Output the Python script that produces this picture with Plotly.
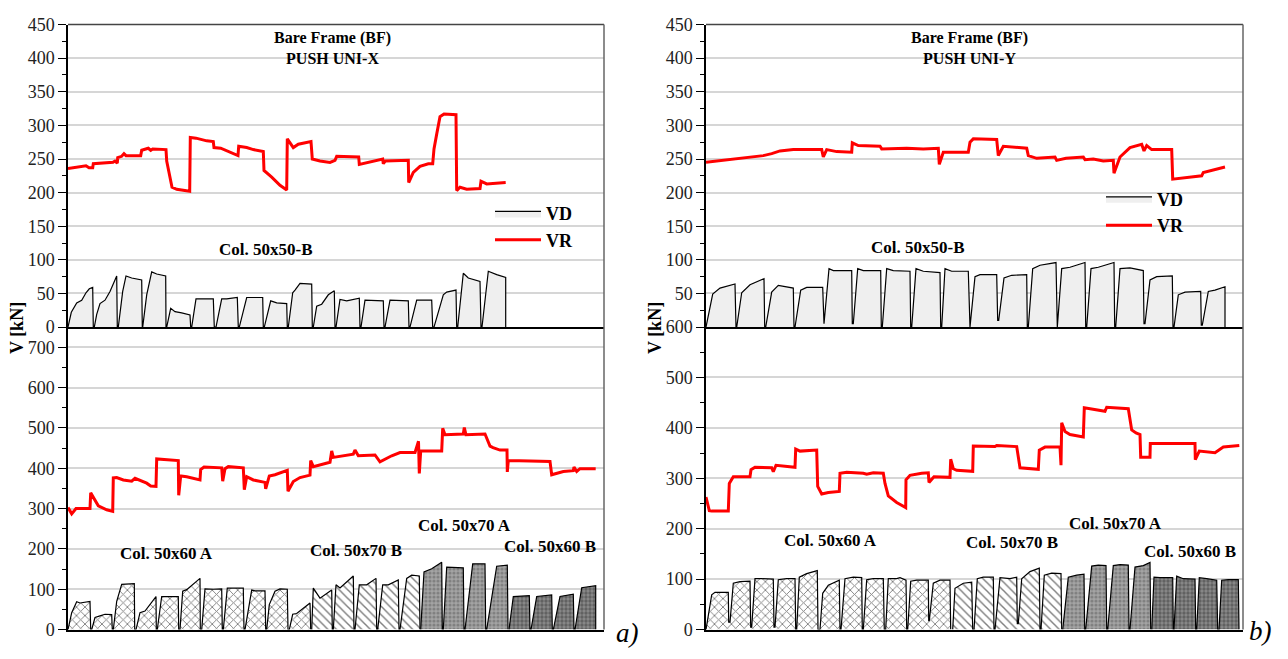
import plotly.graph_objects as go

W, H = 1288, 659

# ---------------- DATA (x = loading step, V in kN) ----------------
# Panel a) top : Col. 50x50-B
TL_VR_X = [0, 12, 18, 21, 24.7, 25.3, 45, 47, 49.3, 49.7, 53.7, 56, 58, 72.7, 73.7, 80.3, 82.7, 84.7, 98, 98.7,
           104, 108.7, 121.7, 122.3, 128, 138.7, 145.3, 146, 152.7, 170, 170.7, 178.7, 185.3, 195.3, 196,
           203.7, 212, 218.7, 219.3, 225.3, 230.3, 243, 244.3, 252, 262, 267, 268.7, 290.7, 291.3, 314.7,
           315.3, 317.3, 340.3, 340.7, 345.3, 352, 360.3, 364.7, 366, 368.7, 372, 376, 388, 388.7, 392,
           398.7, 412, 413, 418.7, 437.7]
TL_VR_V = [236, 238, 240, 237, 237, 243, 245, 247, 244, 252, 254, 258, 255, 255, 263, 266, 263, 265, 264, 247,
           208, 205, 202, 282, 281, 277, 276, 267, 266, 255, 269, 267, 264, 261, 233,
           223, 211, 204, 280, 267, 272, 276, 250, 247, 245, 248, 254, 253, 242, 250,
           243, 247, 248, 215, 230, 239, 243, 243, 265, 287, 313, 317, 316, 203, 208,
           205, 206, 217, 213, 215]

TL_VD_X = [0, 3.3, 8.7, 13.7, 18, 21.3, 24.7, 25.3,
           26.3, 28.7, 32, 37, 42, 48.7, 49.3,
           50.3, 54.7, 58, 63.7, 73.7, 74.3,
           74.7, 78.7, 83.7, 88.7, 97.7, 98,
           98.7, 102.7, 107, 113.7, 122, 122.7,
           123.7, 128, 132, 145.3, 146.3,
           148, 153.7, 158.7, 169.3, 170.3,
           171.3, 178.7, 185.3, 194.7, 195.3,
           196.3, 202.7, 208.7, 218.7, 219.3,
           220.3, 224.7, 227, 232, 243.7, 244.3,
           245.3, 248.7, 253.7, 260.3, 266.3, 267,
           268, 272, 278.7, 291.3, 292,
           293, 297, 315.3, 316,
           317, 322, 340.3, 341,
           342, 348.7, 363.7, 364.7,
           366, 375.3, 378.7, 388, 388.7,
           389.7, 395.3, 400.3, 412, 413,
           414, 420.3, 428.7, 437.7, 437.7]
TL_VD_V = [0, 22, 36, 40, 51, 57, 59, 0,
           0, 19, 35, 40, 53, 76, 0,
           0, 53, 76, 73, 70, 0,
           0, 48, 82, 79, 76, 0,
           0, 28, 23, 21, 18, 0,
           0, 42, 42, 42, 0,
           0, 42, 42, 44, 0,
           0, 44, 44, 44, 0,
           0, 39, 36, 35, 0,
           0, 51, 55, 65, 64, 0,
           0, 31, 34, 48, 54, 0,
           0, 41, 39, 43, 0,
           0, 40, 39, 0,
           0, 40, 39, 0,
           0, 40, 40, 0,
           0, 48, 52, 55, 0,
           0, 80, 73, 68, 0,
           0, 83, 78, 74, 0]

# Panel a) bottom
BL_VR_X = [0, 1.7, 3.7, 8, 22, 22.7, 27, 30.3, 38.7, 44.7, 45.3, 48.7, 55.3, 63.7, 67, 72, 78.7, 82.7, 88,
           88.7, 98.7, 110.3, 110.7, 112.7, 118.7, 132, 132.7, 136, 153.7, 154.7, 157, 160.3, 175.3, 176.3,
           178.7, 185.3, 197, 197.7, 201.3, 207, 219.3, 220, 225.3, 232, 242, 242.7, 245.3, 252, 262,
           263.7, 265.3, 285.3, 287, 290.3, 307, 312, 323.7, 332, 347, 350.5, 351.3, 352.7, 373.7, 374.7,
           377, 395.3, 396.3, 398, 417, 422, 425, 432, 439, 439.3, 440.3, 462, 482, 483.7, 495.3, 505.3,
           506, 508.7, 512, 527.7]
BL_VR_V = [303, 295, 287, 300, 300, 339, 319, 307, 297, 293, 376, 377, 371, 368, 375, 369, 363, 356, 355,
           423, 421, 419, 333, 381, 379, 371, 397, 403, 401, 368, 399, 404, 401, 347,
           379, 371, 365, 349, 381, 384, 395, 343, 367, 377, 383, 419, 404, 408, 415,
           443, 427, 435, 445, 431, 433, 416, 431, 439, 439, 467, 387, 443, 443, 499,
           483, 485, 501, 483, 485, 455, 451, 445, 445, 391, 419, 418, 417, 384, 392, 394,
           403, 392, 399, 399]

# Col. 50x60 A
BL_G1_X = [0, 3.7, 8.7, 12, 22, 22.7, 23.7, 27, 32, 37, 43.7, 44.3, 45.3, 48.7, 53.7, 66.3, 66.7,
           68, 72, 77, 88, 88.3, 89.3, 93.7, 110.3, 110.7, 112, 114.7, 118.7, 132, 132.3,
           133.7, 137, 145.3, 153.7, 154.3, 155.3, 159.3, 167, 175.3, 176, 177, 183.7, 187, 197, 197.7,
           198.7, 201.3, 207, 212, 219.3, 220, 221.3, 224.7, 228.7, 242, 242.7]
BL_G1_V = [0, 42, 69, 66, 70, 0, 0, 30, 34, 38, 37, 0, 0, 70, 112, 114, 0,
           0, 42, 46, 82, 0, 0, 82, 82, 0, 0, 95, 99, 127, 0,
           0, 101, 100, 101, 0, 0, 103, 103, 103, 0, 0, 98, 96, 96, 0,
           0, 62, 95, 101, 100, 0, 0, 38, 40, 66, 0]
# Col. 50x70 B
BL_G2_X = [243.7, 245.3, 252, 263.7, 264.3, 265.3, 268, 272, 285.3, 286, 287, 291.3, 298.7, 308, 308.7,
           309.7, 314.7, 320.3, 330.3, 331, 332, 338.7, 343.7, 351.3, 352]
BL_G2_V = [0, 103, 78, 98, 0, 0, 111, 103, 133, 0, 0, 111, 111, 127, 0,
           0, 111, 111, 123, 0, 0, 127, 135, 133, 0]
# Col. 50x70 A
BL_G3_X = [352.7, 356, 363.7, 373.7, 374.3, 375.3, 378.7, 395.3, 396, 397, 404.7, 417, 417.7,
           418.7, 428.7, 439.3, 440]
BL_G3_V = [0, 143, 151, 167, 0, 0, 155, 153, 0, 0, 163, 163, 0, 0, 157, 160, 0]
# Col. 50x60 B
BL_G4_X = [441, 445.3, 461.3, 462, 463, 468.7, 483.7, 484.3, 485.3, 492, 505.3, 506, 507, 513.7, 527.7, 527.7]
BL_G4_V = [0, 82, 84, 0, 0, 82, 86, 0, 0, 82, 88, 0, 0, 104, 109, 0]

# Panel b) top : Col. 50x50-B
TR_VR_X = [0, 5.7, 30.7, 57.3, 65.7, 74, 87.3, 115.7, 117.3, 120.7, 130.7, 145.7, 146.3, 152.3, 174, 175.7,
           200.7, 217.3, 232.3, 233.3, 237.3, 252.3, 262.3, 264, 267.3, 290.7, 292.3, 297.3, 320.7, 322.3,
           330.7, 349, 350.7, 360, 377.3, 379, 387.3, 397.3, 407.3, 408, 414, 424, 435.7, 438, 440.7,
           445.7, 465.7, 466.7, 474, 495.7, 497.3, 510.7, 519]
TR_VR_V = [245, 246, 251, 255, 258, 262, 264, 264, 253, 264, 261, 260, 274, 270, 269, 265,
           266, 265, 266, 242, 260, 260, 260, 275, 280, 279, 255, 269, 266, 255,
           251, 253, 248, 251, 253, 249, 250, 247, 248, 229, 253, 267, 272, 262, 270,
           264, 264, 220, 221, 225, 230, 235, 238]

TR_VD_X = [0, 6.7, 14, 29, 30, 30.7, 35.7, 44, 58, 58.7, 59.7, 65.7, 72.3, 87.3, 88,
           89, 94.7, 100.7, 116.7, 117.3, 118, 123, 127.3, 145.7, 146.3, 147.3, 151.7, 157.3, 174.7, 175.3,
           176.3, 180.7, 187.3, 204, 204.7, 205.7, 210, 217.3, 234, 234.7, 235.7, 239, 245.7, 262.3, 263.3,
           264, 269, 274, 290.7, 291.7, 292.7, 298, 305.7, 320.7, 321.3, 322.3, 326.7, 334, 350, 350.7,
           351.3, 355.7, 364, 379, 379.7, 380.7, 385, 392.3, 408, 408.7, 409.7, 414, 424, 437.3, 438,
           439, 444, 450.7, 466.3, 467, 468, 472.3, 479, 494.7, 495.3, 496.3, 502.3, 509, 519, 519]
TR_VD_V = [0, 49, 58, 64, 0, 0, 51, 63, 72, 0, 0, 52, 62, 58, 0,
           0, 55, 59, 59, 5, 5, 87, 84, 84, 5, 5, 87, 84, 84, 0,
           0, 87, 84, 83, 0, 0, 87, 83, 81, 0, 0, 87, 83, 83, 0,
           0, 75, 78, 78, 10, 10, 73, 77, 78, 0, 0, 87, 92, 96, 0,
           0, 87, 89, 96, 0, 0, 87, 89, 96, 0, 0, 87, 88, 84, 5,
           5, 70, 75, 76, 0, 0, 48, 52, 53, 3, 3, 53, 55, 60, 0]

# Panel b) bottom
BR_VR_X = [0, 3.3, 5.7, 22.3, 23.3, 27.3, 44, 45, 49, 65.7, 67.3, 70, 89, 89.7, 94, 110.7, 111.7, 115.7,
           122.3, 133.3, 134, 140.7, 157.3, 160.7, 167.3, 177.3, 179, 182.3, 190.7, 199.7, 200, 204, 215.7,
           222.3, 223, 228, 244, 244.7, 247.3, 250.7, 266.7, 267.3, 289, 290.7, 310.7, 314, 332.3, 333.3,
           339, 354, 355, 355.7, 359, 364, 377.3, 378.3, 399, 400.7, 422.3, 425.7, 430, 434, 434.7, 444,
           444.3, 474, 489, 489.3, 493.3, 509, 517.3, 533.3]
BR_VR_V = [263, 236, 235, 235, 290, 303, 303, 317, 322, 321, 313, 326, 322, 358, 354, 356, 284, 269,
           272, 274, 310, 312, 310, 308, 311, 310, 290, 265, 252, 242, 297, 306, 310,
           311, 292, 303, 302, 338, 319, 316, 314, 364, 363, 365, 363, 321, 318, 356,
           362, 362, 326, 410, 393, 387, 382, 440, 433, 441, 438, 396, 390, 387, 342, 342,
           369, 369, 369, 337, 354, 351, 362, 365]

# Col. 50x60 A
BR_G1_X = [0, 5.7, 9, 22.3, 22.7, 24, 27.3, 34, 44, 44.7, 45.7, 49, 55.7, 67.3, 68, 69, 72.3, 80.7, 89, 89.7,
           90.7, 93.3, 100.7, 111.3, 112, 114, 116.7, 122.3, 133.3, 134, 135, 139, 147.3, 155.7, 156.3,
           157.3, 160.7, 167.3, 177.3, 178.3, 179.7, 182.3, 190.7, 194, 200, 200.7,
           201.7, 204.7, 210.7, 222.3, 222.7, 223.3, 227.3, 234, 244, 244.7]
BR_G1_V = [0, 69, 74, 74, 15, 15, 92, 95, 96, 5, 5, 101, 101, 100, 5, 5, 99, 101, 101, 0,
           0, 104, 111, 117, 0, 0, 72, 88, 98, 0, 0, 101, 104, 103, 0,
           0, 99, 101, 101, 0, 0, 101, 101, 103, 98, 0,
           0, 96, 98, 98, 18, 18, 92, 98, 98, 0]
# Col. 50x70 B
BR_G2_X = [246.7, 249, 257.3, 265.7, 266.7, 268, 271.3, 277.3, 287.3, 288, 289, 294, 304, 310.7, 311.3,
           312.3, 315.7, 324, 333.3, 334, 335, 338.3, 345.7, 355, 355.7]
BR_G2_V = [0, 82, 92, 94, 0, 0, 101, 104, 104, 0, 0, 103, 101, 104, 12,
           12, 101, 115, 122, 0, 0, 108, 112, 111, 0]
# Col. 50x70 A
BR_G3_X = [356.7, 362.3, 370.7, 378, 378.7, 379.7, 385.7, 392.3, 400, 400.7, 401.7, 407.3, 414, 422.3, 423,
           424, 429, 437.3, 444, 444.7]
BR_G3_V = [0, 104, 108, 110, 0, 0, 126, 128, 127, 0, 0, 127, 129, 128, 0, 0, 124, 127, 133, 0]
# Col. 50x60 B
BR_G4_X = [445.7, 448, 454, 466.7, 467.3, 468, 470.7, 477.3, 489, 489.7, 490.7, 493.3, 500.7, 510.7, 511.7,
           513, 515.7, 522.3, 532.3, 533]
BR_G4_V = [0, 104, 103, 103, 0, 0, 106, 101, 100, 0, 0, 103, 101, 98, 0, 0, 98, 99, 99, 0]

# Tick values
TL_TICKS = list(range(0, 451, 50))
BL_TICKS = list(range(0, 701, 100))
TR_TICKS = list(range(50, 451, 50))
BR_TICKS = list(range(0, 601, 100))

# ---------------- FIGURE ----------------
SERIF = "Liberation Serif"
RED = "#ff0000"

fig = go.Figure()

def px(p):
    return p / W

def py(p):
    return 1 - p / H

def vd(x, y, xa, ya, pattern=None, fill="#efefef", name="VD", show=False, legend="legend"):
    kw = dict(x=x, y=y, xaxis=xa, yaxis=ya, mode="lines", name=name,
              line=dict(color="black", width=1.2), fill="tozeroy", fillcolor=fill,
              showlegend=show, legend=legend, hoverinfo="skip")
    if pattern is not None:
        kw["fillpattern"] = pattern
    fig.add_trace(go.Scatter(**kw))

def vr(x, y, xa, ya, show=False, legend="legend"):
    fig.add_trace(go.Scatter(x=x, y=y, xaxis=xa, yaxis=ya, mode="lines", name="VR",
                             line=dict(color=RED, width=3), showlegend=show, legend=legend,
                             hoverinfo="skip"))

PAT_X = dict(shape="x", fgcolor="black", bgcolor="white", size=6, solidity=0.28)
PAT_BS = dict(shape="\\", fgcolor="black", bgcolor="white", size=6, solidity=0.24)
PAT_G3 = dict(shape=".", fgcolor="#5c5c5c", bgcolor="#a4a4a4", size=4, solidity=0.5)
PAT_G4 = dict(shape=".", fgcolor="#383838", bgcolor="#8a8a8a", size=4, solidity=0.55)

# panel a
vd(TL_VD_X, TL_VD_V, "x", "y", show=True, legend="legend")
vr(TL_VR_X, TL_VR_V, "x", "y", show=True, legend="legend")
vd(BL_G1_X, BL_G1_V, "x2", "y2", pattern=PAT_X, fill="white")
vd(BL_G2_X, BL_G2_V, "x2", "y2", pattern=PAT_BS, fill="white")
vd(BL_G3_X, BL_G3_V, "x2", "y2", pattern=PAT_G3, fill="#a4a4a4")
vd(BL_G4_X, BL_G4_V, "x2", "y2", pattern=PAT_G4, fill="#8a8a8a")
vr(BL_VR_X, BL_VR_V, "x2", "y2")
# panel b
vd(TR_VD_X, TR_VD_V, "x3", "y3", show=True, legend="legend2")
vr(TR_VR_X, TR_VR_V, "x3", "y3", show=True, legend="legend2")
vd(BR_G1_X, BR_G1_V, "x4", "y4", pattern=PAT_X, fill="white")
vd(BR_G2_X, BR_G2_V, "x4", "y4", pattern=PAT_BS, fill="white")
vd(BR_G3_X, BR_G3_V, "x4", "y4", pattern=PAT_G3, fill="#a4a4a4")
vd(BR_G4_X, BR_G4_V, "x4", "y4", pattern=PAT_G4, fill="#8a8a8a")
vr(BR_VR_X, BR_VR_V, "x4", "y4")

TOP_DOM = [py(327), py(15)]
BOT_DOM = [py(639), py(327)]
LEFT_DOM = [px(68), px(604)]
RIGHT_DOM = [px(706), px(1243)]

def xaxis(dom, rng, anchor):
    return dict(domain=dom, range=rng, anchor=anchor, showticklabels=False, ticks="",
                showgrid=False, zeroline=False, showline=True, linecolor="black", linewidth=1.5)

def yaxis(dom, rng, anchor, tickvals, minor):
    return dict(domain=dom, range=rng, anchor=anchor, tickvals=tickvals, ticks="outside",
                ticklen=8, tickwidth=1.2, tickcolor="black", showline=True, linecolor="black",
                linewidth=1.5, showgrid=True, gridcolor="#d6d6d6", gridwidth=1.5, zeroline=False,
                tickfont=dict(family=SERIF, size=18, color="#222"),
                minor=dict(tickvals=minor, ticks="outside", ticklen=4, tickwidth=1.2,
                           tickcolor="black", showgrid=False))

LEG_FONT = dict(family=SERIF, size=18, color="black", weight="bold")
fig.update_layout(
    width=W, height=H, margin=dict(l=0, r=0, t=0, b=0),
    paper_bgcolor="white", plot_bgcolor="white",
    xaxis=xaxis(LEFT_DOM, [0, 536], "y"),
    yaxis=yaxis(TOP_DOM, [0, 450], "x", TL_TICKS, list(range(25, 450, 50))),
    xaxis2=xaxis(LEFT_DOM, [0, 536], "y2"),
    yaxis2=yaxis(BOT_DOM, [0, 750], "x2", BL_TICKS, list(range(50, 700, 100))),
    xaxis3=xaxis(RIGHT_DOM, [0, 537], "y3"),
    yaxis3=yaxis(TOP_DOM, [0, 450], "x3", TR_TICKS, list(range(25, 450, 50))),
    xaxis4=xaxis(RIGHT_DOM, [0, 537], "y4"),
    yaxis4=yaxis(BOT_DOM, [0, 600], "x4", BR_TICKS, list(range(50, 600, 100))),
    legend=dict(x=px(490), y=py(191), xanchor="left", yanchor="top", bgcolor="rgba(0,0,0,0)",
                font=LEG_FONT, itemwidth=46, tracegroupgap=0),
    legend2=dict(x=px(1101), y=py(176), xanchor="left", yanchor="top", bgcolor="rgba(0,0,0,0)",
                 font=LEG_FONT, itemwidth=46, tracegroupgap=0),
)

# frame (top and right borders)
for x0, x1 in [(68, 604), (706, 1243)]:
    fig.add_shape(type="line", xref="paper", yref="paper", x0=px(x0), x1=px(x1), y0=py(15), y1=py(15),
                  line=dict(color="#444", width=1.5))
    fig.add_shape(type="line", xref="paper", yref="paper", x0=px(x1), x1=px(x1), y0=py(15), y1=py(639),
                  line=dict(color="#666", width=1.5))

def note(text, x, y, size=17, italic=False, bold=True, angle=0):
    t = text
    if bold:
        t = "<b>" + t.replace("<br>", "</b><br><b>") + "</b>"
    if italic:
        t = "<i>" + t + "</i>"
    fig.add_annotation(text=t, x=px(x), y=py(y), xref="paper", yref="paper", showarrow=False,
                       xanchor="center", yanchor="middle", textangle=angle,
                       font=dict(family=SERIF, size=size, color="black"))

note("Bare Frame (BF)<br>PUSH UNI-X", 332, 39, size=16)
note("Col. 50x50-B", 266, 247)
note("Col. 50x60 A", 166, 560)
note("Col. 50x70 B", 356, 557)
note("Col. 50x70 A", 464, 532)
note("Col. 50x60 B", 550, 553)

note("Bare Frame (BF)<br>PUSH UNI-Y", 969, 39, size=16)
note("Col. 50x50-B", 918, 245)
note("Col. 50x60 A", 830, 547)
note("Col. 50x70 B", 1012, 549)
note("Col. 50x70 A", 1115, 530)
note("Col. 50x60 B", 1190, 558)

note("V [kN]", 17, 328, size=18, angle=-90)
note("V [kN]", 655, 328, size=18, angle=-90)
note("a)", 627, 643, size=27, italic=True, bold=False)
note("b)", 1260, 640, size=27, italic=True, bold=False)

fig.write_html("out.html")
